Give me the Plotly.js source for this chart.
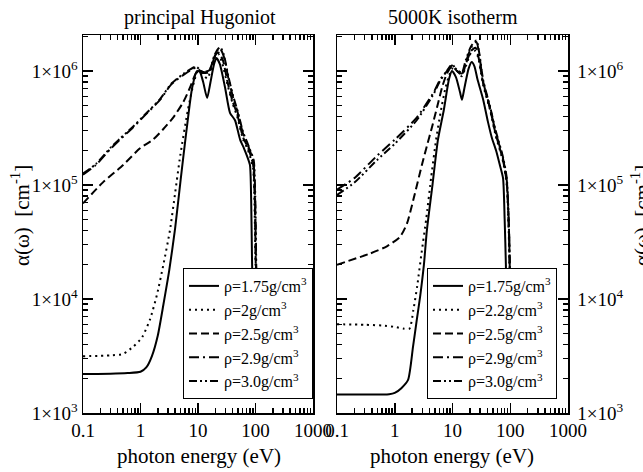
<!DOCTYPE html>
<html>
<head>
<meta charset="utf-8">
<script src="https://cdn.plot.ly/plotly-3.0.1.min.js"></script>
<style>html,body{margin:0;padding:0;background:#fff;}#chart{width:643px;height:472px;}</style>
</head>
<body>
<div id="chart"></div>
<script>
// ---------- principal Hugoniot (left panel) ----------
const E_H175 = [0.1, 0.3, 0.6, 1.0, 1.26, 1.58, 2.0, 2.5, 3.16, 4.0, 5.0, 6.3, 7.9, 9.6, 10.8, 12.3, 14.4, 16.5, 19, 21, 24, 29.5, 36, 44, 54, 63, 71, 80, 84, 87, 92];
const A_H175 = [2200, 2210, 2240, 2300, 2510, 3160, 4790, 8900, 1.78e4, 4.17e4, 1.12e5, 3.0e5, 7.1e5, 1.0e6, 9.8e5, 8.0e5, 5.8e5, 8.0e5, 1.15e6, 1.3e6, 1.15e6, 7.2e5, 4.3e5, 3.7e5, 2.5e5, 2.1e5, 1.8e5, 1.5e5, 7.5e4, 2.2e4, 5e3];

const E_H20 = [0.1, 0.3, 0.5, 0.74, 1.06, 1.46, 1.94, 2.5, 3.25, 4.0, 4.9, 6.7, 8.5, 10, 12, 14.5, 17, 20, 22.5, 26, 33, 40, 48, 61, 72, 80, 91, 96, 100, 104];
const A_H20 = [3150, 3200, 3300, 3800, 4600, 6600, 1.1e4, 2.0e4, 4.0e4, 8.5e4, 1.8e5, 4.6e5, 8.0e5, 1.0e6, 9.4e5, 8.6e5, 1.05e6, 1.35e6, 1.42e6, 1.2e6, 7.4e5, 5.2e5, 4.0e5, 2.5e5, 2.1e5, 1.8e5, 1.4e5, 7e4, 2e4, 5e3];

const E_H25 = [0.1, 0.22, 0.5, 0.98, 1.65, 2.5, 3.7, 5.5, 7.3, 9.2, 10.5, 12.5, 15, 18, 20.5, 23, 27, 33, 40, 48, 61, 72, 80, 91, 97, 101, 106];
const A_H25 = [6.9e4, 1.05e5, 1.5e5, 2.1e5, 2.5e5, 3.1e5, 3.9e5, 5.3e5, 7.2e5, 9.6e5, 1.0e6, 9.8e5, 9.7e5, 1.2e6, 1.4e6, 1.45e6, 1.25e6, 7.8e5, 5.4e5, 4.2e5, 2.6e5, 2.2e5, 1.9e5, 1.5e5, 8e4, 2e4, 5e3];

const E_H29 = [0.1, 0.168, 0.307, 0.44, 0.74, 1.2, 2.2, 3.4, 5.5, 9.2, 12.2, 16, 19, 21.5, 24, 28, 34, 41, 48, 61, 72, 80, 92, 98, 102, 107];
const A_H29 = [1.23e5, 1.5e5, 2.1e5, 2.5e5, 3.2e5, 4.1e5, 5.6e5, 7.6e5, 9.2e5, 1.07e6, 9.6e5, 9.9e5, 1.3e6, 1.5e6, 1.58e6, 1.35e6, 8.5e5, 5.8e5, 4.5e5, 2.8e5, 2.3e5, 2.0e5, 1.6e5, 8e4, 2e4, 5e3];

const E_H30 = [0.1, 0.168, 0.307, 0.44, 0.74, 1.2, 2.2, 3.4, 5.5, 9.2, 12.2, 16, 19, 22, 24.5, 28, 34, 41, 48, 61, 72, 80, 93, 99, 103, 108];
const A_H30 = [1.26e5, 1.53e5, 2.15e5, 2.55e5, 3.25e5, 4.15e5, 5.7e5, 7.7e5, 9.4e5, 1.09e6, 9.8e5, 1.02e6, 1.35e6, 1.55e6, 1.62e6, 1.4e6, 8.8e5, 6.0e5, 4.6e5, 2.9e5, 2.35e5, 2.05e5, 1.65e5, 8e4, 2e4, 5e3];

// ---------- 5000K isotherm (right panel) ----------
const E_I175 = [0.1, 0.3, 0.8, 1.0, 1.3, 1.7, 2.07, 2.4, 2.75, 3.2, 3.6, 4.5, 5.6, 7.1, 8.7, 9.8, 11.5, 13.5, 14.6, 16, 19, 21.5, 24, 27, 34, 41, 48, 57, 66, 75, 80, 84, 88];
const A_I175 = [1450, 1450, 1460, 1500, 1650, 1950, 3800, 6500, 1.05e4, 2.0e4, 4.0e4, 1.0e5, 2.5e5, 4.6e5, 8.5e5, 1.0e6, 8.8e5, 6.5e5, 5.6e5, 7.0e5, 1.05e6, 1.2e6, 1.1e6, 8.5e5, 5.6e5, 3.6e5, 2.6e5, 2.0e5, 1.5e5, 1.15e5, 5e4, 2e4, 5e3];

const E_I22 = [0.1, 0.3, 0.6, 1.0, 1.4, 1.8, 2.1, 2.45, 2.9, 3.5, 4.3, 5.2, 6.2, 7.5, 8.8, 10, 12, 14.5, 17, 21, 25, 28, 34, 45, 55, 75, 87, 94, 98, 102];
const A_I22 = [6000, 5950, 5850, 5700, 5500, 5500, 8000, 1.3e4, 2.5e4, 5.0e4, 1.2e5, 2.5e5, 4.3e5, 7.0e5, 9.2e5, 1.05e6, 1.0e6, 9.0e5, 1.1e6, 1.45e6, 1.5e6, 1.3e6, 7.5e5, 4.5e5, 2.8e5, 1.6e5, 1.0e5, 4e4, 1.5e4, 5e3];

const E_I25 = [0.1, 0.37, 0.73, 1.23, 1.63, 2.15, 2.95, 3.6, 4.4, 5.4, 6.6, 8.0, 9.8, 12, 14.5, 17, 21, 25, 28, 34, 45, 55, 75, 87, 95, 99, 103];
const A_I25 = [2.0e4, 2.5e4, 2.9e4, 3.5e4, 4.6e4, 7.8e4, 1.5e5, 2.2e5, 3.2e5, 4.8e5, 7.2e5, 9.5e5, 1.1e6, 1.0e6, 9.2e5, 1.15e6, 1.5e6, 1.6e6, 1.35e6, 7.8e5, 4.6e5, 2.9e5, 1.65e5, 1.05e5, 4e4, 1.5e4, 5e3];

const E_I29 = [0.1, 0.2, 0.49, 1.0, 2.4, 4.8, 6.0, 8.0, 9.8, 12, 14.5, 17, 21, 26, 29, 34, 45, 55, 75, 87, 95, 99, 103];
const A_I29 = [9.1e4, 1.15e5, 1.8e5, 2.5e5, 3.9e5, 6.6e5, 8.3e5, 1.0e6, 1.15e6, 1.0e6, 9.5e5, 1.2e6, 1.6e6, 1.8e6, 1.4e6, 8.0e5, 4.7e5, 3.0e5, 1.7e5, 1.1e5, 4e4, 1.5e4, 5e3];

const E_I30 = [0.1, 0.2, 0.49, 1.0, 2.4, 4.8, 6.0, 8.0, 9.8, 12, 14.5, 17, 21, 26, 29, 34, 45, 55, 75, 87, 95, 99, 103];
const A_I30 = [8.2e4, 1.05e5, 1.65e5, 2.3e5, 3.7e5, 6.4e5, 8.1e5, 1.0e6, 1.12e6, 1.02e6, 9.7e5, 1.25e6, 1.65e6, 1.85e6, 1.45e6, 8.3e5, 4.8e5, 3.1e5, 1.75e5, 1.15e5, 4.2e4, 1.6e4, 5e3];

// ---------- labels ----------
const LEG_H = ['ρ=1.75g/cm<sup>3</sup>', 'ρ=2g/cm<sup>3</sup>', 'ρ=2.5g/cm<sup>3</sup>', 'ρ=2.9g/cm<sup>3</sup>', 'ρ=3.0g/cm<sup>3</sup>'];
const LEG_I = ['ρ=1.75g/cm<sup>3</sup>', 'ρ=2.2g/cm<sup>3</sup>', 'ρ=2.5g/cm<sup>3</sup>', 'ρ=2.9g/cm<sup>3</sup>', 'ρ=3.0g/cm<sup>3</sup>'];
const X_TICKVALS = [0.1, 1, 10, 100, 1000];
const X_TICKTEXT = ['0.1', '1', '10', '100', '1000'];
const Y_TICKVALS = [1e3, 1e4, 1e5, 1e6];
const Y_TICKTEXT = ['1×10<sup>3</sup>', '1×10<sup>4</sup>', '1×10<sup>5</sup>', '1×10<sup>6</sup>'];

const DASHES = ['solid', '2px,4px', '8px,4px', '10px,4px,2px,4px', '8px,3px,2px,3px,2px,3px'];
const SERIF = '"Liberation Serif", "Times New Roman", Times, serif';
const TICKC = 'black';

function minorVals(d0, d1) {
  const v = [];
  for (let d = d0; d <= d1; d++) for (let k = 2; k <= 9; k++) v.push(k * Math.pow(10, d));
  return v;
}

const W = 643, H = 472;
const px = v => v / W, py = v => 1 - v / H;

const left = [[E_H175, A_H175], [E_H20, A_H20], [E_H25, A_H25], [E_H29, A_H29], [E_H30, A_H30]];
const right = [[E_I175, A_I175], [E_I22, A_I22], [E_I25, A_I25], [E_I29, A_I29], [E_I30, A_I30]];

const traces = [];
left.forEach((s, i) => traces.push({
  x: s[0], y: s[1], type: 'scatter', mode: 'lines', name: LEG_H[i],
  xaxis: 'x', yaxis: 'y', legend: 'legend',
  line: {color: 'black', width: 2, dash: DASHES[i], shape: 'spline', smoothing: 0.6}
}));
right.forEach((s, i) => traces.push({
  x: s[0], y: s[1], type: 'scatter', mode: 'lines', name: LEG_I[i],
  xaxis: 'x2', yaxis: 'y2', legend: 'legend2',
  line: {color: 'black', width: 2, dash: DASHES[i], shape: 'spline', smoothing: 0.6}
}));
// empty helper traces so the mirrored (tick-only) axes get drawn
[['x3', 'y'], ['x', 'y3'], ['x4', 'y2'], ['x2', 'y4']].forEach(p => traces.push({
  x: [], y: [], type: 'scatter', mode: 'lines', xaxis: p[0], yaxis: p[1], showlegend: false, hoverinfo: 'skip'
}));

const tickFont = {family: SERIF, size: 19, color: 'black'};
const tickStyle = {
  ticks: 'inside', ticklen: 10, tickwidth: 1.5, tickcolor: TICKC,
  showline: true, linecolor: 'black', linewidth: 1.5,
  showgrid: false, zeroline: false, tickfont: tickFont
};
function xax(domain, anchor, extra) {
  return Object.assign({
    type: 'log', range: [-1, 3], domain: domain, anchor: anchor, autorange: false,
    tickmode: 'array', tickvals: X_TICKVALS, ticktext: X_TICKTEXT,
    minor: {ticks: 'inside', ticklen: 5, tickwidth: 1.5, tickcolor: TICKC, tickmode: 'array', tickvals: minorVals(-1, 2), showgrid: false}
  }, tickStyle, extra || {});
}
function yax(domain, anchor, extra) {
  return Object.assign({
    type: 'log', range: [3, 6.316], domain: domain, anchor: anchor, autorange: false,
    tickmode: 'array', tickvals: Y_TICKVALS, ticktext: Y_TICKTEXT,
    minor: {ticks: 'inside', ticklen: 5, tickwidth: 1.5, tickcolor: TICKC, tickmode: 'array', tickvals: minorVals(3, 6), showgrid: false}
  }, tickStyle, extra || {});
}

const legendBase = {
  bgcolor: 'white', bordercolor: 'black', borderwidth: 1,
  font: {family: SERIF, size: 16, color: 'black'},
  itemwidth: 30, tracegroupgap: 0, yanchor: 'top', xanchor: 'right'
};

const txt = (s) => ({family: SERIF, size: s, color: 'black'});
const XD1 = [px(83), px(313)], XD2 = [px(337), px(568)], YD = [1 - 413 / H, 1 - 35 / H];

const layout = {
  width: W, height: H,
  margin: {l: 0, r: 0, t: 0, b: 0},
  paper_bgcolor: 'white', plot_bgcolor: 'white',
  font: {family: SERIF, color: 'black'},
  showlegend: true,
  xaxis: xax(XD1, 'y', {side: 'bottom'}),
  yaxis: yax(YD, 'x', {side: 'left'}),
  xaxis3: xax(XD1, 'y', {side: 'top', overlaying: 'x', showticklabels: false}),
  yaxis3: yax(YD, 'x', {side: 'right', overlaying: 'y', showticklabels: false}),
  xaxis2: xax(XD2, 'y2', {side: 'bottom'}),
  yaxis2: yax(YD, 'x2', {side: 'right', ticklabelstandoff: 4}),
  xaxis4: xax(XD2, 'y2', {side: 'top', overlaying: 'x2', showticklabels: false}),
  yaxis4: yax(YD, 'x2', {side: 'left', overlaying: 'y2', showticklabels: false}),
  legend: Object.assign({}, legendBase, {x: px(313), y: py(268)}),
  legend2: Object.assign({}, legendBase, {x: px(557), y: py(268)}),
  annotations: [
    {text: 'principal Hugoniot', x: px(199.5), y: py(17), xref: 'paper', yref: 'paper', xanchor: 'center', yanchor: 'middle', showarrow: false, font: txt(20)},
    {text: '5000K isotherm', x: px(452.5), y: py(17), xref: 'paper', yref: 'paper', xanchor: 'center', yanchor: 'middle', showarrow: false, font: txt(20)},
    {text: 'photon energy (eV)', x: px(199), y: py(456), xref: 'paper', yref: 'paper', xanchor: 'center', yanchor: 'middle', showarrow: false, font: txt(21)},
    {text: 'photon energy (eV)', x: px(452), y: py(456), xref: 'paper', yref: 'paper', xanchor: 'center', yanchor: 'middle', showarrow: false, font: txt(21)},
    {text: 'α(ω)  [cm<sup>-1</sup>]', x: px(20), y: py(216), xref: 'paper', yref: 'paper', xanchor: 'center', yanchor: 'middle', textangle: -90, showarrow: false, font: txt(21)},
    {text: 'α(ω)  [cm<sup>-1</sup>]', x: px(640), y: py(216), xref: 'paper', yref: 'paper', xanchor: 'center', yanchor: 'middle', textangle: -90, showarrow: false, font: txt(21)}
  ]
};

Plotly.newPlot('chart', traces, layout, {staticPlot: true, displayModeBar: false});
</script>
</body>
</html>
